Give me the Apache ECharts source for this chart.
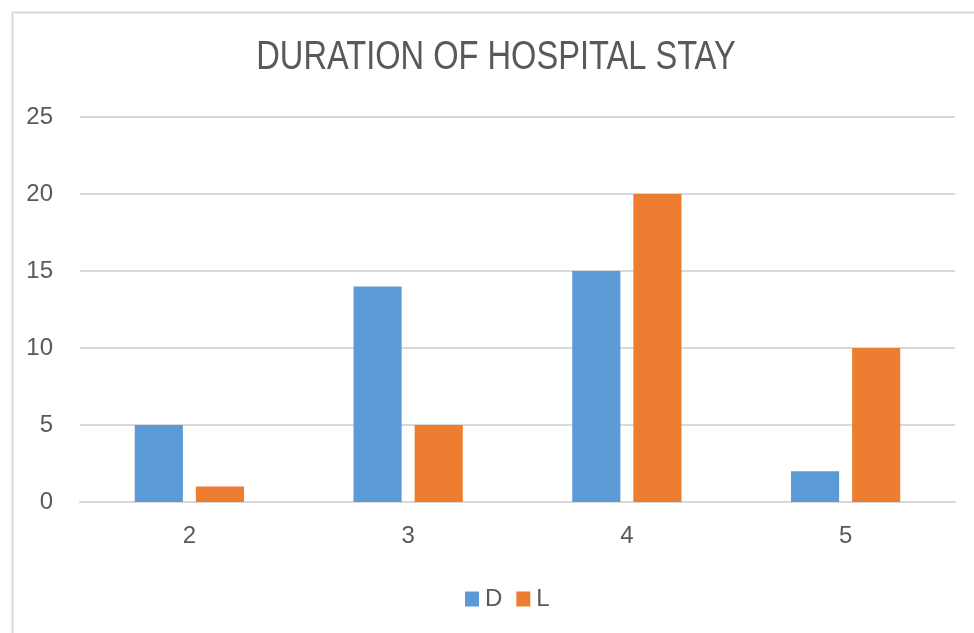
<!DOCTYPE html>
<html>
<head>
<meta charset="utf-8">
<script src="https://cdn.jsdelivr.net/npm/echarts@6/dist/echarts.min.js"></script>
<style>
  html, body { margin: 0; padding: 0; background: #fff; }
  #chart { width: 974px; height: 633px; }
</style>
</head>
<body>
<div id="chart"></div>
<script>
// Days in hospital and patient counts per group
const categories = ['2', '3', '4', '5'];
const seriesD = [5, 14, 15, 2];
const seriesL = [1, 5, 20, 10];
const yTicks = { min: 0, max: 25, interval: 5 };
const titleText = 'DURATION OF HOSPITAL STAY';

const FONT = '"Liberation Sans Narrow", "Arial Narrow", "Liberation Sans", Arial, sans-serif';
const TEXT = '#595959';

const chart = echarts.init(document.getElementById('chart'), null, { renderer: 'canvas' });

chart.setOption({
  backgroundColor: '#ffffff',
  animation: false,
  graphic: [
    {
      type: 'rect',
      left: 10, top: 10,
      shape: { width: 1000, height: 700 },
      style: { fill: 'none', stroke: '#d9d9d9', lineWidth: 2 },
      z: -1
    },
    {
      // condensed title text
      type: 'text',
      x: 496, y: 58,
      scaleX: 0.815,
      style: {
        text: titleText,
        fontFamily: FONT, fontSize: 40, fill: TEXT,
        textAlign: 'center', textVerticalAlign: 'middle'
      }
    }
  ],
  legend: {
    data: ['D', 'L'],
    left: 460, top: 582,
    icon: 'rect', itemWidth: 14, itemHeight: 15, itemGap: 14,
    textStyle: { fontFamily: FONT, fontSize: 24, color: TEXT, padding: [0, 0, 0, 1] }
  },
  grid: { left: 80, right: 19, top: 117, bottom: 131, containLabel: false },
  xAxis: {
    type: 'category',
    data: categories,
    axisLine: { show: true, lineStyle: { color: '#d9d9d9', width: 2 } },
    axisTick: { show: false },
    axisLabel: { fontFamily: FONT, fontSize: 24, color: TEXT, margin: 22 }
  },
  yAxis: {
    type: 'value',
    min: yTicks.min, max: yTicks.max, interval: yTicks.interval,
    axisLine: { show: false },
    axisTick: { show: false },
    axisLabel: { fontFamily: FONT, fontSize: 24, color: TEXT, margin: 27 },
    splitLine: { lineStyle: { color: '#d9d9d9', width: 2 } }
  },
  series: [
    { name: 'D', type: 'bar', data: seriesD, barWidth: '22%', barGap: '27%',
      itemStyle: { color: '#5b9bd5' } },
    { name: 'L', type: 'bar', data: seriesL, barWidth: '22%', barGap: '27%',
      itemStyle: { color: '#ed7d31' } }
  ]
});
</script>
</body>
</html>
